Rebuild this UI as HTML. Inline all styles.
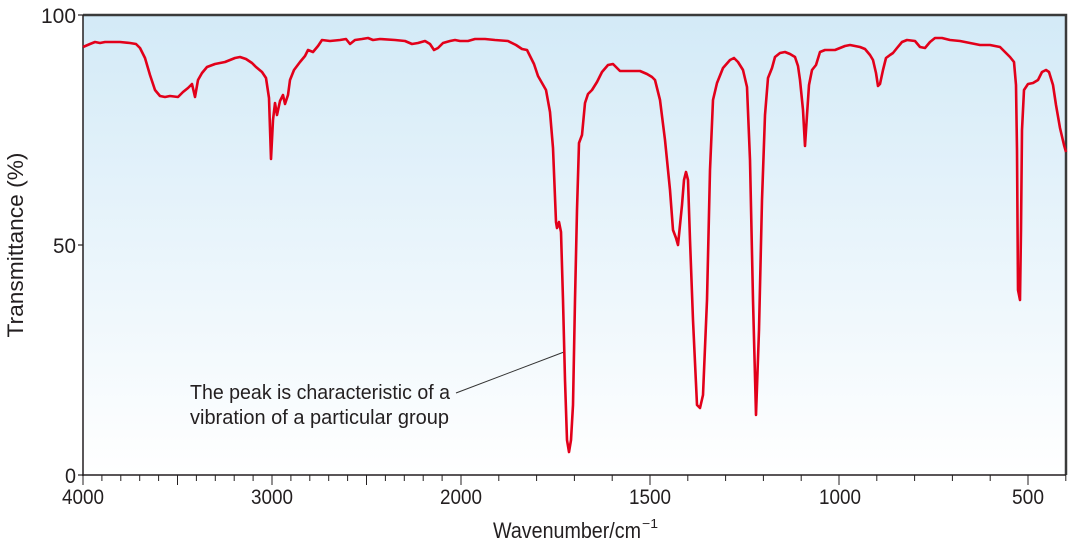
<!DOCTYPE html>
<html><head><style>
html,body{margin:0;padding:0;background:#fff;}
svg text{font-family:"Liberation Sans Narrow","Liberation Sans",sans-serif;fill:#231f20;}
</style></head><body>
<svg width="1072" height="547" viewBox="0 0 1072 547" xmlns="http://www.w3.org/2000/svg">
<defs><linearGradient id="g" x1="0" y1="0" x2="0" y2="1">
<stop offset="0" stop-color="#d3eaf7"/><stop offset="1" stop-color="#ffffff"/></linearGradient></defs>
<rect x="83" y="15" width="983" height="460" fill="url(#g)"/>
<polyline fill="none" stroke="#3a3a3a" stroke-width="2.5" points="83,15 1066,15 1066,475"/>
<line x1="83" y1="15" x2="83" y2="476" stroke="#231f20" stroke-width="1.5"/>
<line x1="82" y1="475" x2="1066" y2="475" stroke="#231f20" stroke-width="1.5"/>
<g stroke="#231f20" stroke-width="1.2">
<line x1="78" y1="15" x2="83" y2="15"/><line x1="78" y1="245" x2="83" y2="245"/><line x1="78" y1="475" x2="83" y2="475"/>
</g>
<g id="ticks" stroke="#231f20" stroke-width="1"></g>
<g font-size="21" text-anchor="end" lengthAdjust="spacingAndGlyphs">
<text x="76" y="23" textLength="35" lengthAdjust="spacingAndGlyphs">100</text>
<text x="76" y="253" textLength="23" lengthAdjust="spacingAndGlyphs">50</text>
<text x="76" y="483" textLength="11" lengthAdjust="spacingAndGlyphs">0</text>
</g>
<g font-size="21" text-anchor="middle">
<text x="83" y="504" textLength="42" lengthAdjust="spacingAndGlyphs">4000</text>
<text x="272" y="504" textLength="42" lengthAdjust="spacingAndGlyphs">3000</text>
<text x="461" y="504" textLength="42" lengthAdjust="spacingAndGlyphs">2000</text>
<text x="650" y="504" textLength="42" lengthAdjust="spacingAndGlyphs">1500</text>
<text x="840" y="504" textLength="42" lengthAdjust="spacingAndGlyphs">1000</text>
<text x="1028" y="504" textLength="32" lengthAdjust="spacingAndGlyphs">500</text>
</g>
<text x="493" y="538" font-size="22" textLength="148" lengthAdjust="spacingAndGlyphs">Wavenumber/cm</text>
<text x="642" y="528" font-size="13" textLength="16" lengthAdjust="spacingAndGlyphs">−1</text>
<text transform="translate(23,245) rotate(-90)" font-size="22" text-anchor="middle" textLength="185" lengthAdjust="spacingAndGlyphs">Transmittance (%)</text>
<text x="190" y="399" font-size="20" textLength="260" lengthAdjust="spacingAndGlyphs">The peak is characteristic of a</text>
<text x="190" y="424" font-size="20" textLength="259" lengthAdjust="spacingAndGlyphs">vibration of a particular group</text>
<line x1="456" y1="393" x2="564" y2="352" stroke="#333" stroke-width="1"/>
<polyline fill="none" stroke="#e2001a" stroke-width="2.6" stroke-linejoin="round" points="83,47 90,44 95,42 100,43 105,42 120,42 130,43 136,44 140,48 145,58 150,75 155,90 160,96 165,97 170,96 178,97 183,92 188,88 192,84 195,97 198,80 202,73 207,67 215,64 225,62 235,58 240,57 246,59 252,63 256,67 262,72 266,78 269,98 271,159 273,120 275,103 277,115 280,101 283,95 285,104 288,95 290,80 294,70 300,62 305,56 308,50 313,52 318,46 322,40 330,41 340,40 346,39 350,44 355,40 362,39 368,38 373,40 380,39 395,40 405,41 412,44 418,43 425,41 430,44 434,50 438,48 443,43 450,41 455,40 460,41 468,41 475,39 485,39 495,40 508,41 516,45 522,49 527,50 530,56 534,64 538,76 542,83 546,90 550,112 553,148 556,222 557,228 559,222 561,232 563,300 565,380 567,440 569,452 571,440 573,405 575,300 577,210 579,143 582,135 585,103 588,94 592,90 597,82 602,72 608,65 613,64 620,71 625,71 640,71 647,74 652,77 655,80 660,100 665,140 670,190 673,230 676,238 678,245 680,225 682,205 684,180 686,172 688,180 690,240 693,320 697,405 700,408 703,395 707,300 710,170 713,100 717,83 723,68 730,60 734,58 738,62 743,70 747,87 750,160 753,300 756,415 759,330 762,200 765,115 768,78 772,68 775,57 780,53 785,52 790,54 795,57 798,66 800,80 803,110 805,146 807,115 809,85 812,70 816,65 820,52 825,50 835,50 840,48 845,46 850,45 855,46 860,47 865,49 870,55 873,60 876,73 878,86 880,84 883,70 886,58 890,55 893,53 897,48 902,42 907,40 915,41 920,47 925,48 930,42 935,38 942,38 950,40 960,41 970,43 980,45 990,45 1000,47 1005,52 1010,57 1014,62 1016,85 1017,150 1018,290 1020,300 1021,230 1022,130 1024,90 1028,84 1033,83 1038,80 1042,72 1046,70 1049,72 1053,85 1056,105 1060,128 1064,145 1066,152"/>
</svg>
<script>
var g=document.getElementById('ticks'),s='';
for(var w=4000;w>=400;w-=100){var x=w>=2000?83+(4000-w)*0.189:461+(2000-w)*0.378;var L=(w%500==0)?10:6;s+='<line x1="'+x+'" y1="475" x2="'+x+'" y2="'+(475+L)+'"/>';}
g.innerHTML=s;
</script>
</body></html>
